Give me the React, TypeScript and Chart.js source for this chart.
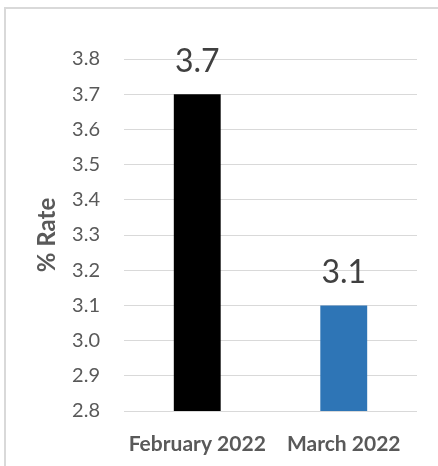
import React, { useEffect, useRef } from "react";
import { Chart, registerables } from "chart.js";

Chart.register(...registerables);

const categories = ["February 2022", "March 2022"];
const rates = [3.7, 3.1];
const barColors = ["#000000", "#2E75B6"];
const yMin = 2.8;
const yMax = 3.8;
const yStep = 0.1;
const yTitle = "% Rate";

const FONT = "Lato, 'Liberation Sans', sans-serif";

const dataLabelPlugin = {
  id: "dataLabels",
  afterDatasetsDraw(chart: any) {
    const ctx = chart.ctx;
    const meta = chart.getDatasetMeta(0);
    ctx.save();
    ctx.font = `32px ${FONT}`;
    ctx.fillStyle = "#404040";
    ctx.textAlign = "center";
    ctx.textBaseline = "alphabetic";
    meta.data.forEach((bar: any, i: number) => {
      const v = chart.data.datasets[0].data[i];
      ctx.fillText(Number(v).toFixed(1), bar.x, bar.y - 22);
    });
    ctx.restore();
  },
};

export default function App() {
  const ref = useRef<HTMLCanvasElement | null>(null);
  useEffect(() => {
    if (!ref.current) return;
    const chart = new Chart(ref.current, {
      type: "bar",
      data: {
        labels: categories,
        datasets: [
          {
            data: rates,
            backgroundColor: barColors,
            barPercentage: 0.64,
            categoryPercentage: 0.5,
          },
        ],
      },
      options: {
        animation: false,
        responsive: false,
        maintainAspectRatio: false,
        layout: { padding: { top: 59, right: 21, left: 0, bottom: 0 } },
        plugins: {
          legend: { display: false },
          tooltip: { enabled: false },
        },
        scales: {
          x: {
            grid: { display: false },
            border: { display: false },
            ticks: {
              color: "#595959",
              font: { family: FONT, size: 21, weight: "bold" },
              padding: 13,
              maxRotation: 0,
            },
            afterFit(scale: any) {
              scale.height = 55;
            },
          },
          y: {
            min: yMin,
            max: yMax,
            border: { display: false },
            grid: { color: "#d9d9d9", lineWidth: 1, drawTicks: false },
            ticks: {
              stepSize: yStep,
              color: "#595959",
              font: { family: FONT, size: 20 },
              padding: 24,
              callback: (v: any) => Number(v).toFixed(1),
            },
            title: {
              display: true,
              text: yTitle,
              color: "#595959",
              font: { family: FONT, size: 24, weight: "bold" },
              padding: { top: 33, bottom: 0 },
            },
            afterFit(scale: any) {
              scale.width = 124;
            },
          },
        },
      },
      plugins: [dataLabelPlugin],
    });
    return () => chart.destroy();
  }, []);
  return (
    <div style={{ position: "fixed", left: 0, top: 0, width: 438, height: 466, background: "#fff" }}>
      <canvas ref={ref} width={438} height={466} style={{ position: "absolute", left: 0, top: 0 }} />
      <div
        style={{
          position: "absolute",
          left: 4,
          top: 7,
          right: -4,
          bottom: -4,
          borderTop: "2px solid #d9d9d9",
          borderLeft: "2px solid #d9d9d9",
          pointerEvents: "none",
        }}
      />
    </div>
  );
}
